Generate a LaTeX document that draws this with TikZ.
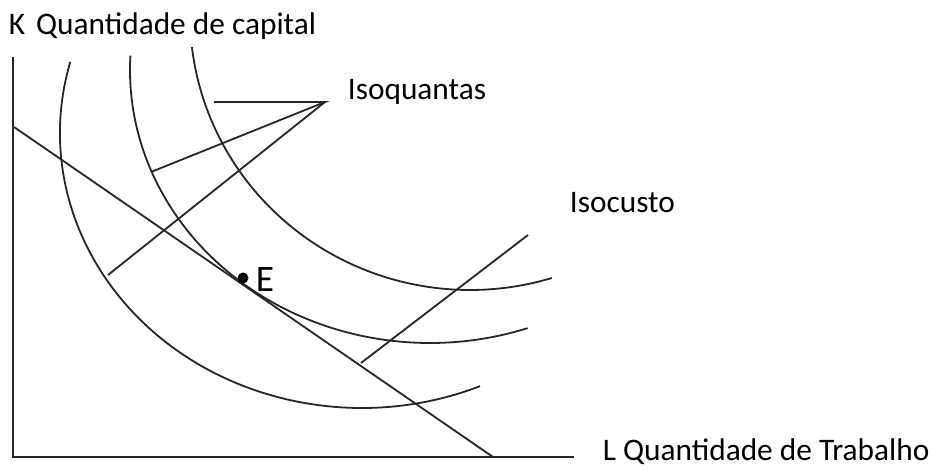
\documentclass[tikz,border=0pt]{standalone}
\usepackage{fontspec}
\setmainfont{Carlito}
\usepackage{tikz}
\usetikzlibrary{positioning}

\begin{document}
\begin{tikzpicture}[x=.75pt, y=.75pt, line width=1.35pt, draw=black!85,
    lbl/.style={anchor=base west, inner sep=0pt, font=\fontsize{23.5}{27}\selectfont},
    isoq/.style={line width=1.35pt}]
    \useasboundingbox (0,0) rectangle (942,468);
    % axes
    \coordinate (orig) at (13,11);
    \coordinate (ktop) at (13,411);
    \coordinate (lend) at (574,11);
    \draw[line width=1.7pt] (ktop) -- (orig) -- (lend);
    \node[lbl] (klab) at (8,433) {K\hspace{.35em}Quantidade de capital};
    \node[lbl] (llab) at (602,8) {L Quantidade de Trabalho};
    % isoquants
    \draw[isoq] (362,335) ++(165:302 and 275) arc[start angle=165, end angle=293, x radius=302, y radius=275];
    \draw[isoq] (430,398) ++(177:300 and 273) arc[start angle=177, end angle=289, x radius=300, y radius=273];
    \draw[isoq] (470,453) ++(186.7:280 and 275) arc[start angle=186.7, end angle=287, x radius=280, y radius=275];
    % isocost
    \coordinate (cstk) at (14,341);
    \coordinate (cstl) at (493,11);
    \draw (cstk) -- (cstl);
    \fill[black] (243,190) circle[radius=5.5] coordinate (edot);
    \node[anchor=base west, inner sep=0pt, font=\fontsize{28}{32}\selectfont] (elab) at (255,176) {E};
    % labels and leaders
    \node[lbl] (isoqlab) at (347,368) {Isoquantas};
    \coordinate (apex) at (325,366);
    \coordinate (q3) at (214,366);
    \coordinate (q2) at (151,296);
    \coordinate (q1) at (108,193);
    \draw (q3) -- (apex) -- (q2);
    \draw (apex) -- (q1);
    \node[lbl] (isoclab) at (569,255) {Isocusto};
    \coordinate (ctop) at (528,233);
    \coordinate (cbot) at (361,105);
    \draw (ctop) -- (cbot);
\end{tikzpicture}
\end{document}
